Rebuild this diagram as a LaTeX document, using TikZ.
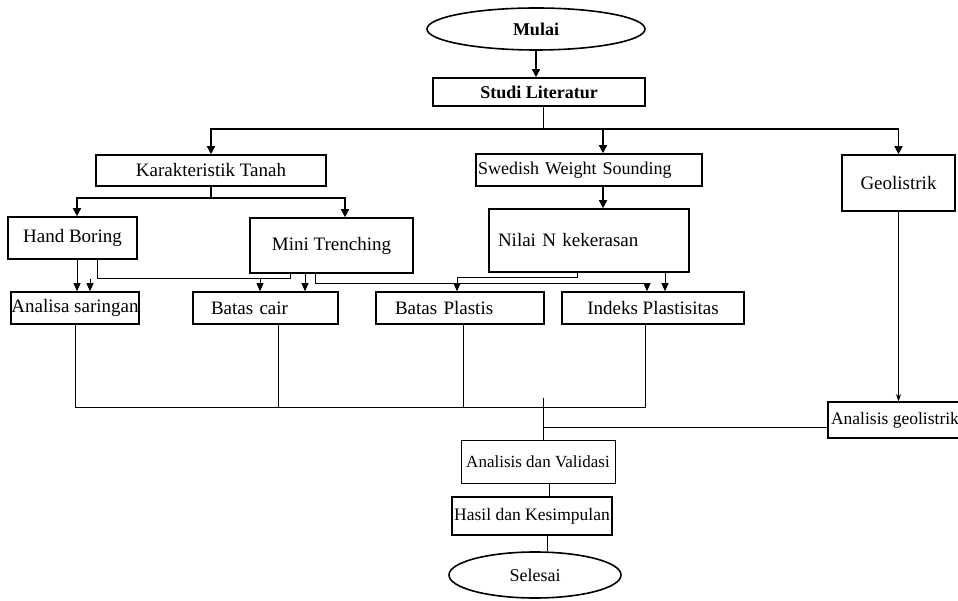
\documentclass[tikz,border=0pt]{standalone}
\usepackage{fontspec}
\setmainfont{Liberation Serif}
\usetikzlibrary{positioning, calc, arrows.meta, shapes.geometric}

\begin{document}
\begin{tikzpicture}[x=1pt, y=-1pt,
        box/.style={draw, line width=1.6pt, inner sep=0pt, font=\fontsize{19}{21}\selectfont},
        oval/.style={draw, ellipse, line width=1.6pt, inner sep=0pt, font=\fontsize{18}{20}\selectfont},
        bigarrow/.style={line width=1.5pt, -{Triangle[length=8pt,width=8pt]}},
        smallarrow/.style={line width=0.8pt, -{Triangle[length=8pt,width=7pt]}},
        link/.style={line width=0.8pt}]
            \useasboundingbox (0,0) rectangle (958,601);
            \node[oval, font=\fontsize{18}{20}\selectfont\bfseries, minimum width=218pt, minimum height=42pt] (mulai) at (536,29) {Mulai};
            \node[box, font=\fontsize{18}{20}\selectfont\bfseries, minimum width=212pt, minimum height=28pt] (studi) at (539,92) {Studi Literatur};
            \node[box, minimum width=230pt, minimum height=31pt] (karak) at (211,170.5) {Karakteristik Tanah};
            \node[box, font=\fontsize{18}{20}\selectfont, minimum height=32pt, text width=222pt, inner xsep=2pt, align=left] (swedish) at (589,170) {Swedish Weight Sounding};
            \node[box, minimum width=113pt, minimum height=56pt] (geo) at (898.5,183) {Geolistrik};
            \node[box, minimum width=129pt, minimum height=42pt] (hand) at (72.5,238) {Hand Boring};
            \node[box, minimum width=163pt, minimum height=55pt] (mini) at (331.5,245.5) {Mini Trenching};
            \node[box, minimum height=63pt, text width=182pt, inner xsep=9pt, align=left] (nilai) at (589,240.5) {Nilai N kekerasan};
            \node[box, minimum width=128pt, minimum height=32pt] (analisa) at (75,308) {Analisa saringan};
            \node[box, minimum height=32pt, text width=109pt, inner xsep=18pt, align=left] (cair) at (265.5,308) {Batas cair};
            \node[box, minimum height=32pt, text width=130pt, inner xsep=19pt, align=left] (plastis) at (460,308) {Batas Plastis};
            \node[box, minimum width=182pt, minimum height=32pt] (indeks) at (653,308) {Indeks Plastisitas};
            \node[box, font=\fontsize{17.5}{19}\selectfont, minimum width=134pt, minimum height=36pt] (geoan) at (895,420) {Analisis geolistrik};
            \node[box, line width=0.8pt, font=\fontsize{17}{19}\selectfont, minimum width=154pt, minimum height=43pt] (validasi) at (538,461.5) {Analisis dan Validasi};
            \node[box, line width=1.3pt, font=\fontsize{17.5}{19}\selectfont, minimum width=160pt, minimum height=38pt] (hasil) at (532,516) {Hasil dan Kesimpulan};
            \node[oval, minimum width=172pt, minimum height=46pt] (selesai) at (535,575) {Selesai};
            \coordinate (bar) at ($(studi.south)+(4,22)$);
            \coordinate (sw) at ($(swedish.north)+(14,0)$);
            \coordinate (kbar) at ($(karak.south)+(0,11)$);
            \coordinate (hb) at ($(hand.north)+(4.5,0)$);
            \coordinate (mt) at ($(mini.north)+(13.5,0)$);
            \coordinate (sn) at ($(swedish.south)+(14,0)$);
            \coordinate (ha) at ($(hand.south)+(4.5,0)$);
            \coordinate (hm) at ($(hand.south)+(24.5,19)$);
            \coordinate (mh) at ($(mini.south)+(-41.5,0)$);
            \coordinate (as) at ($(analisa.north)+(15,0)$);
            \coordinate (bc) at ($(cair.north)+(-5.5,0)$);
            \coordinate (mc) at ($(mini.south)+(-26.5,0)$);
            \coordinate (mi) at ($(mini.south)+(-16.5,10)$);
            \coordinate (im) at ($(indeks.north)+(-6,0)$);
            \coordinate (np) at ($(nilai.south)+(-12,5)$);
            \coordinate (pn) at ($(plastis.north)+(-3,0)$);
            \coordinate (ni) at ($(nilai.south)+(76,0)$);
            \coordinate (join) at ($(validasi.north)+(5,-32)$);
            \coordinate (cs) at ($(cair.south)+(12.5,0)$);
            \coordinate (ps) at ($(plastis.south)+(3,0)$);
            \coordinate (is) at ($(indeks.south)+(-8,0)$);
            \coordinate (gw) at ($(geoan.west)+(0,7)$);
            \coordinate (vh) at ($(validasi.south)+(11,0)$);
            \coordinate (hs) at ($(hasil.south)+(15,0)$);
            \draw[bigarrow] (mulai.south) -- (mulai.south |- studi.north);
            \draw[link] (bar |- studi.south) -- (bar);
            \draw[bigarrow] (bar) -| (karak.north);
            \draw[bigarrow] (bar) -| (sw);
            \draw[bigarrow] (bar) -| (geo.north);
            \draw[bigarrow] (karak.south) -- (kbar) -| (hb);
            \draw[bigarrow] (kbar) -| (mt);
            \draw[bigarrow] (sn) -- (sn |- nilai.north);
            \draw[smallarrow] (ha) -- (ha |- analisa.north);
            \draw[link] (hand.south -| hm) -- (hm) -| (mh);
            \draw[smallarrow] (as |- hm) -- (as);
            \draw[smallarrow] (bc |- hm) -- (bc);
            \draw[smallarrow] (mc) -- (mc |- cair.north);
            \draw[smallarrow] (mi |- mini.south) -- (mi) -| (im);
            \draw[smallarrow] (np |- nilai.south) -- (np) -| (pn);
            \draw[smallarrow] (ni) -- (ni |- indeks.north);
            \draw[link] (analisa.south) |- (is |- join) -- (is);
            \draw[link] (cs) -- (cs |- join);
            \draw[link] (ps) -- (ps |- join);
            \draw[link] ($(join)+(0,-10)$) -- (join |- validasi.north);
            \draw[link] (join |- gw) -- (gw);
            \draw[line width=0.6pt, -{Stealth[length=7pt,width=5pt]}] (geo.south) -- (geo.south |- geoan.north);
            \draw[link] (vh) -- (vh |- hasil.north);
            \draw[link] (hs) -- (hs |- selesai.north);
        \end{tikzpicture}
\end{document}
